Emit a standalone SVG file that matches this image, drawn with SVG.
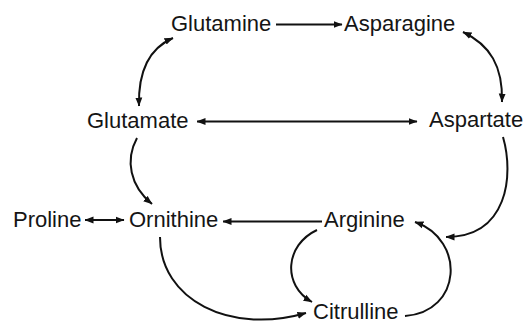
<svg xmlns="http://www.w3.org/2000/svg" width="525" height="323" viewBox="0 0 525 323">
<defs>
<marker id="ah" markerUnits="userSpaceOnUse" markerWidth="9" markerHeight="8" refX="8.5" refY="4" orient="auto-start-reverse">
<path d="M0,0.5 L9,4 L0,7.5 Z" fill="#111"/>
</marker>
<style>
text{font-family:"Liberation Sans",Arial,sans-serif;font-size:22px;fill:#151515}
.c{fill:none;stroke:#111;stroke-width:2}
.e{marker-end:url(#ah)}
.b{marker-start:url(#ah);marker-end:url(#ah)}
</style>
</defs>
<rect width="525" height="323" fill="#fff"/>
<g id="connectors">
<path class="c e" d="M276,24.5 L342,24.5"/>
<path class="c b" d="M173,38 C150,48 138,70 139,106"/>
<path class="c b" d="M463,32 C490,45 503,66 502,102"/>
<path class="c b" d="M197,121.5 L417,121.5"/>
<path class="c e" d="M137,138 C125,160 130,186 152,204"/>
<path class="c e" d="M503,137 C514,175 508,237 446,237"/>
<path class="c b" d="M85,220 L124,220"/>
<path class="c e" d="M322,221.5 L223,221.5"/>
<path class="c e" d="M317,230 C285,245 282,285 312,302"/>
<path class="c e" d="M160,237 C160,300 230,335 306,313"/>
<path class="c e" d="M405,316 C462,312 466,240 415,222"/>
</g>
<g id="glutamine"><text x="171" y="31">Glutamine</text></g>
<g id="asparagine"><text x="344" y="31">Asparagine</text></g>
<g id="glutamate"><text x="87" y="128">Glutamate</text></g>
<g id="aspartate"><text x="429" y="127">Aspartate</text></g>
<g id="proline"><text x="13" y="227">Proline</text></g>
<g id="ornithine"><text x="129" y="227">Ornithine</text></g>
<g id="arginine"><text x="324" y="227">Arginine</text></g>
<g id="citrulline"><text x="313" y="319">Citrulline</text></g>
</svg>
